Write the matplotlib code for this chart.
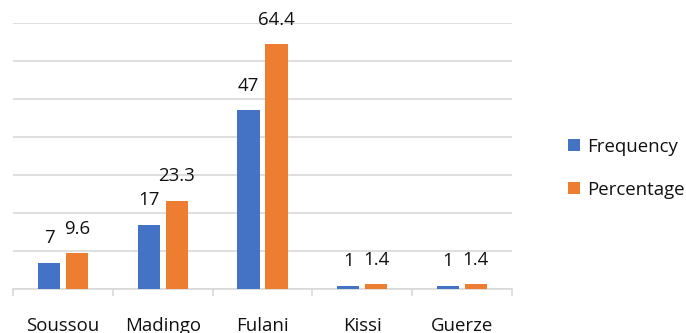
import matplotlib
matplotlib.use("Agg")
import matplotlib.pyplot as plt
import numpy as np

categories = ["Soussou", "Madingo", "Fulani", "Kissi", "Guerze"]
frequency = [7, 17, 47, 1, 1]
percentage = [9.6, 23.3, 64.4, 1.4, 1.4]
freq_labels = ["7", "17", "47", "1", "1"]
pct_labels = ["9.6", "23.3", "64.4", "1.4", "1.4"]

plt.rcParams['font.family'] = ['Open Sans', 'DejaVu Sans']

fig = plt.figure(figsize=(6.86, 3.33), dpi=100)
ax = fig.add_axes([0.0194, 0.1312, 0.7266, 0.7998])

x = np.arange(len(categories))
w = 0.224
off = 0.14
blue = "#4472C4"
orange = "#ED7D31"
txt = "#111111"
fs = 13.4
b1 = ax.bar(x - off, frequency, w, color=blue, label="Frequency", zorder=3)
b2 = ax.bar(x + off, percentage, w, color=orange, label="Percentage", zorder=3)

for rect, lab in zip(b1, freq_labels):
    ax.annotate(lab, (rect.get_x() + rect.get_width() / 2, rect.get_height()),
                xytext=(0, 11), textcoords="offset points", ha="center", va="bottom",
                fontsize=fs, color=txt)
for rect, lab in zip(b2, pct_labels):
    ax.annotate(lab, (rect.get_x() + rect.get_width() / 2, rect.get_height()),
                xytext=(0, 11), textcoords="offset points", ha="center", va="bottom",
                fontsize=fs, color=txt)

ax.set_xlim(-0.5, len(categories) - 0.5)
ax.set_ylim(0, 70)
ax.set_yticks(np.arange(0, 71, 10))
ax.yaxis.grid(True, color="#d9d9d9", linewidth=1.2, zorder=0)
ax.tick_params(axis="y", left=False, labelleft=False)
for s in ["top", "right", "left"]:
    ax.spines[s].set_visible(False)
ax.spines["bottom"].set_color("#d9d9d9")
ax.spines["bottom"].set_linewidth(1.2)

ax.set_xticks(x)
ax.set_xticklabels(categories, fontsize=fs, color=txt)
ax.tick_params(axis="x", which="major", length=0, pad=20)
ax.set_xticks(np.arange(-0.5, len(categories), 1.0), minor=True)
ax.tick_params(axis="x", which="minor", length=5, width=1.2, color="#d9d9d9", direction="out")

leg = fig.legend(handles=[b1, b2], labels=["Frequency", "Percentage"], loc="center left",
                 bbox_to_anchor=(0.828, 0.495), frameon=False, fontsize=fs,
                 handlelength=0.65, handleheight=0.65, handletextpad=0.4, labelspacing=1.35,
                 borderpad=0, borderaxespad=0)
for t in leg.get_texts():
    t.set_color(txt)

fig.savefig("out.png", dpi=100)
